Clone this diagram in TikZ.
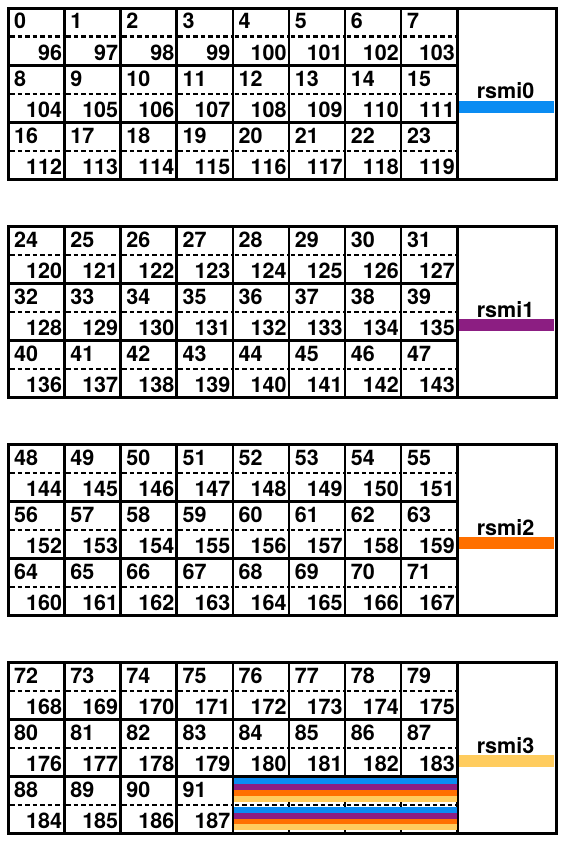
\documentclass[tikz,border=0pt]{standalone}
\usepackage{fontspec}
\setmainfont{TeX Gyre Heros}
\usepackage{tikz}
\usetikzlibrary{positioning}
\definecolor{RsmiBlue}{HTML}{0A8CF2}
\definecolor{RsmiPurple}{HTML}{8C1E82}
\definecolor{RsmiOrange}{HTML}{FF7000}
\definecolor{RsmiYellow}{HTML}{FFCC5E}

\begin{document}
\begin{tikzpicture}[x=1pt,y=-1pt,
    cell/.style={draw,line width=2.6pt,minimum width=56.125pt,minimum height=57pt,
                 inner sep=0pt,anchor=north west},
    rsmibox/.style={draw,line width=2.6pt,minimum width=99pt,minimum height=171pt,
                    inner sep=0pt,anchor=north west},
    num/.style={inner sep=0pt,font=\fontsize{21.5}{21.5}\selectfont\bfseries},
    sep/.style={line width=2.6pt,dash pattern=on 4.5pt off 3pt}]
  \useasboundingbox (0,0) rectangle (563,843);
  \foreach \g/\col in {0/RsmiBlue,1/RsmiPurple,2/RsmiOrange,3/RsmiYellow}{
    \pgfmathsetmacro{\top}{7+218*\g}
    % ring box with its colour bar
    \fill[\col] (457.25,\top+94) rectangle (553.75,\top+106);
    \node[rsmibox] (rsmi\g) at (456,\top) {};
    \node[num,anchor=base] (lbl\g) at (505.5,\top+92) {rsmi\g};
    \foreach \r in {0,1,2}{
      \foreach \c in {0,...,7}{
        \pgfmathtruncatemacro{\n}{24*\g+8*\r+\c}
        \pgfmathtruncatemacro{\m}{96+\n}
        \node[cell] (c\g\r\c) at (7+56.125*\c,\top+57*\r) {};
        \draw[sep] ([xshift=3pt]c\g\r\c.west) -- ([xshift=-3pt]c\g\r\c.east);
        \ifnum\n<92
          \node[num,anchor=base west] (lo\n) at ([xshift=7pt,yshift=-22pt]c\g\r\c.north west) {\n};
          \node[num,anchor=base east] (hi\m) at ([xshift=-3.5pt,yshift=6.5pt]c\g\r\c.south east) {\m};
        \fi
      }
    }
  }
  % unused slots: all four rings
  \foreach \k/\col in {0/RsmiBlue,1/RsmiPurple,2/RsmiOrange,3/RsmiYellow}{
    \fill[\col] ([xshift=2pt,yshift=-3pt-6*\k pt]c324.north west)
      rectangle ([xshift=-2pt,yshift=-9pt-6*\k pt]c327.north east);
    \fill[\col] ([xshift=2pt,yshift=-32pt-5.8*\k pt]c324.north west)
      rectangle ([xshift=-2pt,yshift=-37.8pt-5.8*\k pt]c327.north east);
  }
\end{tikzpicture}
\end{document}
